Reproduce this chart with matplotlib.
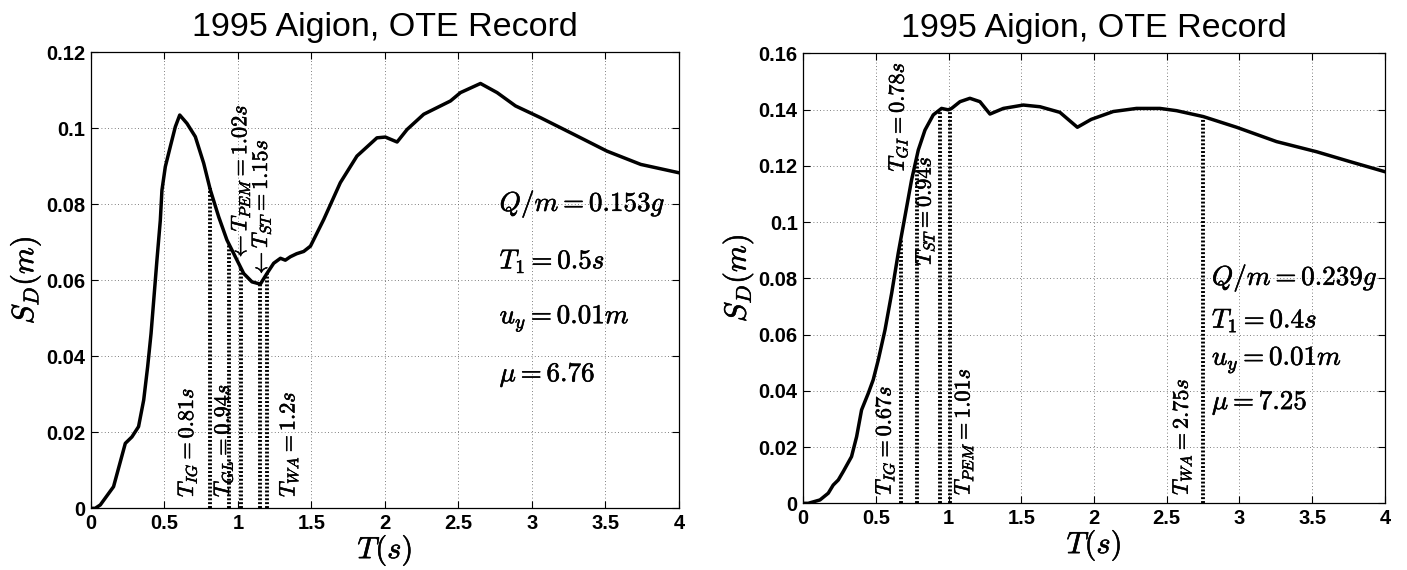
import numpy as np
import matplotlib
matplotlib.use("Agg")
import matplotlib.pyplot as plt
import matplotlib.patheffects as pe
from matplotlib.ticker import FuncFormatter

plt.rcParams['mathtext.fontset'] = 'cm'
plt.rcParams['font.family'] = ['Liberation Sans', 'DejaVu Sans']

# ---------------- data ----------------
title = "1995 Aigion, OTE Record"

# left panel spectrum
T_left = [0.0, 0.03, 0.065, 0.155, 0.235, 0.28, 0.325, 0.36, 0.387, 0.41, 0.432, 0.45,
          0.473, 0.484, 0.507, 0.541, 0.575, 0.605, 0.654, 0.711, 0.768, 0.813, 0.87,
          0.926, 0.983, 1.04, 1.096, 1.153, 1.198, 1.244, 1.29, 1.323, 1.357, 1.40,
          1.448, 1.494, 1.584, 1.697, 1.81, 1.946, 2.003, 2.083, 2.151, 2.264, 2.446,
          2.514, 2.65, 2.763, 2.888, 3.058, 3.285, 3.51, 3.74, 4.0]
SD_left = [0.0, 0.0, 0.0009, 0.0057, 0.0171, 0.0188, 0.0215, 0.0285, 0.0373, 0.046,
           0.0566, 0.0653, 0.0758, 0.0837, 0.0899, 0.0952, 0.1004, 0.1035, 0.1013, 0.0978,
           0.0908, 0.0838, 0.0767, 0.0706, 0.0662, 0.0618, 0.0596, 0.059, 0.0618, 0.0645,
           0.0658, 0.0653, 0.0662, 0.067, 0.0676, 0.069, 0.076, 0.0857, 0.0927, 0.0975,
           0.0977, 0.0964, 0.0997, 0.1037, 0.1072, 0.1094, 0.1118, 0.1094, 0.1059, 0.1028,
           0.0984, 0.094, 0.0905, 0.0883]
marks_left = [0.81, 0.94, 1.02, 1.15, 1.2]
labels_left = [r"$T_{IG}=0.81s$", r"$T_{GL}=0.94s$", r"$\leftarrow T_{PEM}=1.02s$",
               r"$\leftarrow T_{ST}=1.15s$", r"$T_{WA}=1.2s$"]
params_left = [r"$Q/m=0.153g$", r"$T_1=0.5s$", r"$u_y=0.01m$", r"$\mu=6.76$"]

# right panel spectrum
T_right = [0.0, 0.034, 0.115, 0.172, 0.206, 0.241, 0.275, 0.332, 0.367, 0.401, 0.447,
           0.481, 0.516, 0.562, 0.608, 0.653, 0.699, 0.745, 0.791, 0.837, 0.894, 0.951,
           0.997, 1.02, 1.078, 1.146, 1.215, 1.284, 1.376, 1.513, 1.628, 1.765, 1.885,
           1.98, 2.132, 2.292, 2.453, 2.567, 2.751, 2.98, 3.255, 3.53, 3.759, 4.0]
SD_right = [0.0, 0.0, 0.0012, 0.0036, 0.0065, 0.0083, 0.0113, 0.0166, 0.0237, 0.0332,
            0.0391, 0.0439, 0.051, 0.0616, 0.0747, 0.0889, 0.1019, 0.115, 0.1256, 0.1327,
            0.1381, 0.1404, 0.1399, 0.1404, 0.1428, 0.144, 0.1428, 0.1384, 0.1404, 0.1416,
            0.141, 0.139, 0.1337, 0.1365, 0.1393, 0.1404, 0.1404, 0.1396, 0.1375, 0.1337,
            0.1286, 0.125, 0.1215, 0.1179]
marks_right = [0.67, 0.78, 0.94, 1.01, 2.75]
labels_right = [r"$T_{IG}=0.67s$", r"$T_{GI}=0.78s$", r"$T_{ST}=0.94s$",
                r"$T_{PEM}=1.01s$", r"$T_{WA}=2.75s$"]
params_right = [r"$Q/m=0.239g$", r"$T_1=0.4s$", r"$u_y=0.01m$", r"$\mu=7.25$"]

x_ticks = [0, 0.5, 1, 1.5, 2, 2.5, 3, 3.5, 4]
y_ticks_left = [0, 0.02, 0.04, 0.06, 0.08, 0.1, 0.12]
y_ticks_right = [0, 0.02, 0.04, 0.06, 0.08, 0.1, 0.12, 0.14, 0.16]

# ---------------- layout (positions of annotations) ----------------
lab_pos_left = [(0.66, 0.003), (0.905, 0.003), (1.02, 0.065), (1.16, 0.0606), (1.35, 0.003)]
par_pos_left = [(2.78, 0.080), (2.78, 0.065), (2.78, 0.050), (2.78, 0.035)]
lab_pos_right = [(0.565, 0.003), (0.655, 0.118), (0.84, 0.0847), (1.105, 0.003), (2.605, 0.003)]
par_pos_right = [(2.81, 0.080), (2.81, 0.065), (2.81, 0.051), (2.81, 0.0356)]

fig = plt.figure(figsize=(14.07, 5.70), dpi=100)
axL = fig.add_axes([0.0645, 0.1082, 0.4181, 0.800])
axR = fig.add_axes([0.5709, 0.1170, 0.4134, 0.7895])

fmt = FuncFormatter(lambda v, p: "%g" % v)
heavy = [pe.withStroke(linewidth=0.4, foreground='black')]


def draw(ax, T, SD, marks, labels, lab_pos, params, par_pos, yticks):
    ax.plot(T, SD, color='black', lw=2.5, zorder=3, solid_joinstyle='round')
    for m in marks:
        top = float(np.interp(m, T, SD))
        ax.vlines(m, 0, top, colors='black', linestyles=(0, (0.5, 0.5)), lw=2.8, zorder=2)
    for lab, (x, y) in zip(labels, lab_pos):
        ax.text(x, y, lab, rotation=90, ha='center', va='bottom', fontsize=16,
                zorder=4, path_effects=heavy)
    for p, (x, y) in zip(params, par_pos):
        ax.text(x, y, p, ha='left', va='center', fontsize=19.5, zorder=4,
                path_effects=heavy)
    ax.set_xlim(0, 4)
    ax.set_ylim(yticks[0], yticks[-1])
    ax.set_xticks(x_ticks)
    ax.set_yticks(yticks)
    ax.xaxis.set_major_formatter(fmt)
    ax.yaxis.set_major_formatter(fmt)
    ax.grid(True, linestyle=(0, (1, 3)), color='#555555', lw=0.6)
    ax.tick_params(direction='in', top=True, right=True, length=5, width=0.8,
                   labelsize=14.5, pad=4)
    for lbl in ax.get_xticklabels() + ax.get_yticklabels():
        lbl.set_fontweight('bold')
    for s in ax.spines.values():
        s.set_linewidth(0.9)
    ax.set_xlabel(r"$T(s)$", fontsize=22, labelpad=0, path_effects=heavy)
    ax.set_ylabel(r"$S_D(m)$", fontsize=22, labelpad=2, path_effects=heavy)
    ax.set_title(title, fontsize=24.5, pad=12)


draw(axL, T_left, SD_left, marks_left, labels_left, lab_pos_left,
     params_left, par_pos_left, y_ticks_left)
draw(axR, T_right, SD_right, marks_right, labels_right, lab_pos_right,
     params_right, par_pos_right, y_ticks_right)

fig.savefig("out.png", dpi=100)
